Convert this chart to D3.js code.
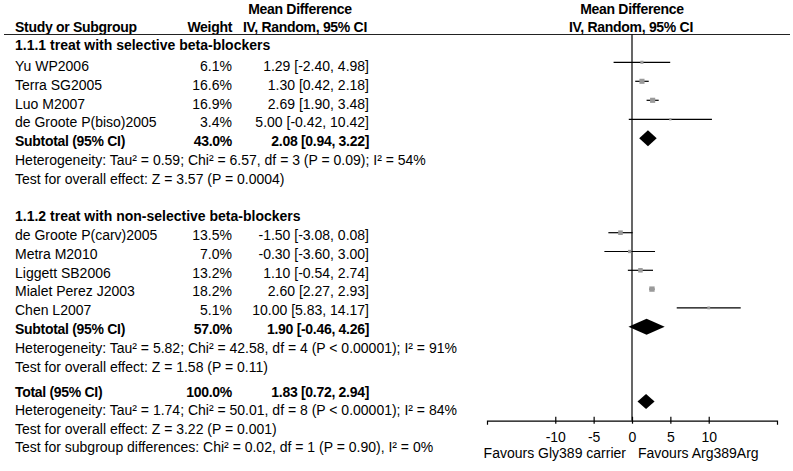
<!DOCTYPE html>
<html><head><meta charset="utf-8">
<script src="https://cdn.jsdelivr.net/npm/d3@7"></script>
<style>
html,body{margin:0;padding:0;background:#fff;}
svg text{font-family:"Liberation Sans",Arial,sans-serif;font-size:14px;fill:#000;}
</style></head>
<body><svg id="c" width="793" height="471"></svg>
<script>
// ---------- DATA ----------
const group1Title = "1.1.1 treat with selective beta-blockers";
const group2Title = "1.1.2 treat with non-selective beta-blockers";
const studies1 = ["Yu WP2006", "Terra SG2005", "Luo M2007", "de Groote P(biso)2005"];
const weights1 = [6.1, 16.6, 16.9, 3.4];
const means1 = [1.29, 1.30, 2.69, 5.00];
const lower1 = [-2.40, 0.42, 1.90, -0.42];
const upper1 = [4.98, 2.18, 3.48, 10.42];
const studies2 = ["de Groote P(carv)2005", "Metra M2010", "Liggett SB2006", "Mialet Perez J2003", "Chen L2007"];
const weights2 = [13.5, 7.0, 13.2, 18.2, 5.1];
const means2 = [-1.50, -0.30, 1.10, 2.60, 10.00];
const lower2 = [-3.08, -3.60, -0.54, 2.27, 5.83];
const upper2 = [0.08, 3.00, 2.74, 2.93, 14.17];
const subtotalLabels = ["Subtotal (95% CI)", "Subtotal (95% CI)", "Total (95% CI)"];
const subtotalWeights = [43.0, 57.0, 100.0];
const subtotalMeans = [2.08, 1.90, 1.83];
const subtotalLower = [0.94, -0.46, 0.72];
const subtotalUpper = [3.22, 4.26, 2.94];
const hetText = [
  "Heterogeneity: Tau\u00B2 = 0.59; Chi\u00B2 = 6.57, df = 3 (P = 0.09); I\u00B2 = 54%",
  "Heterogeneity: Tau\u00B2 = 5.82; Chi\u00B2 = 42.58, df = 4 (P < 0.00001); I\u00B2 = 91%",
  "Heterogeneity: Tau\u00B2 = 1.74; Chi\u00B2 = 50.01, df = 8 (P < 0.00001); I\u00B2 = 84%"
];
const effectText = [
  "Test for overall effect: Z = 3.57 (P = 0.0004)",
  "Test for overall effect: Z = 1.58 (P = 0.11)",
  "Test for overall effect: Z = 3.22 (P = 0.001)"
];
const subgroupText = "Test for subgroup differences: Chi\u00B2 = 0.02, df = 1 (P = 0.90), I\u00B2 = 0%";
const tickValues = [-10, -5, 0, 5, 10];
const favoursLeft = "Favours Gly389 carrier";
const favoursRight = "Favours Arg389Arg";

// ---------- HELPERS ----------
const fmt2 = d => d.toFixed(2);
const fmtW = d => d.toFixed(1) + "%";
const ciStr = (m, l, u) => `${fmt2(m)} [${fmt2(l)}, ${fmt2(u)}]`;

const svg = d3.select("#c");
const x = d3.scaleLinear().domain([-18.9, 18.9]).range([487, 777]);
const axisY = 420.7;
const colName = 15, colWeight = 232, colCI = 369;
const step = 18.8;

function txt(xp, yp, s, opts = {}) {
  const t = svg.append("text").attr("x", xp).attr("y", yp).attr("dy", "0.35em").text(s);
  if (opts.anchor) t.attr("text-anchor", opts.anchor);
  if (opts.bold) t.style("font-weight", "bold");
  if (opts.tight) t.style("letter-spacing", "-0.3px");
  return t;
}

// ---------- HEADER ----------
txt(300, 9, "Mean Difference", {anchor: "middle", bold: true, tight: true});
txt(305, 27, "IV, Random, 95% CI", {anchor: "middle", bold: true, tight: true});
txt(colName, 27, "Study or Subgroup", {bold: true, tight: true});
txt(colWeight, 27, "Weight", {anchor: "end", bold: true, tight: true});
txt(x(0), 9, "Mean Difference", {anchor: "middle", bold: true, tight: true});
txt(x(0) - 1, 27, "IV, Random, 95% CI", {anchor: "middle", bold: true, tight: true});
svg.append("line").attr("x1", 4).attr("x2", 790).attr("y1", 34.5).attr("y2", 34.5)
  .attr("stroke", "#222").attr("stroke-width", 1.2);

// zero line
svg.append("line").attr("x1", x(0)).attr("x2", x(0)).attr("y1", 34.5).attr("y2", axisY)
  .attr("stroke", "#000").attr("stroke-width", 1.2);

// ---------- GROUPS ----------
const groups = [
  {title: group1Title, names: studies1, w: weights1, m: means1, l: lower1, u: upper1,
   titleY: 45, firstY: 66, plotFirstY: 62.3, plotStep: 19, si: 0},
  {title: group2Title, names: studies2, w: weights2, m: means2, l: lower2, u: upper2,
   titleY: 216, firstY: 235, plotFirstY: 232.7, plotStep: 18.8, si: 1}
];

function diamond(i, yc, h) {
  const pts = [[x(subtotalLower[i]), yc], [x(subtotalMeans[i]), yc - h],
               [x(subtotalUpper[i]), yc], [x(subtotalMeans[i]), yc + h]];
  svg.append("path").attr("d", d3.line()(pts) + "Z").attr("fill", "#000");
}

groups.forEach(g => {
  txt(colName, g.titleY, g.title, {bold: true});
  g.names.forEach((n, k) => {
    const ty = g.firstY + k * step;
    txt(colName, ty, n);
    txt(colWeight, ty, fmtW(g.w[k]), {anchor: "end"});
    txt(colCI, ty, ciStr(g.m[k], g.l[k], g.u[k]), {anchor: "end"});
    const py = g.plotFirstY + k * g.plotStep;
    svg.append("line").attr("x1", x(g.l[k])).attr("x2", x(g.u[k]))
      .attr("y1", py).attr("y2", py).attr("stroke", "#000").attr("stroke-width", 1.2);
    const s = 1.25 * Math.sqrt(g.w[k]);
    svg.append("rect").attr("x", x(g.m[k]) - s / 2).attr("y", py - s / 2)
      .attr("width", s).attr("height", s).attr("fill", "#9a9a9a");
  });
  const n = g.names.length;
  const sy = g.firstY + n * step;
  txt(colName, sy, subtotalLabels[g.si], {bold: true, tight: true});
  txt(colWeight, sy, fmtW(subtotalWeights[g.si]), {anchor: "end", bold: true, tight: true});
  txt(colCI, sy, ciStr(subtotalMeans[g.si], subtotalLower[g.si], subtotalUpper[g.si]), {anchor: "end", bold: true, tight: true});
  diamond(g.si, g.plotFirstY + n * g.plotStep, 8);
  txt(colName, sy + step, hetText[g.si]);
  txt(colName, sy + 2 * step, effectText[g.si]);
});

// ---------- TOTAL ----------
const totY = 392;
txt(colName, totY, subtotalLabels[2], {bold: true, tight: true});
txt(colWeight, totY, fmtW(subtotalWeights[2]), {anchor: "end", bold: true, tight: true});
txt(colCI, totY, ciStr(subtotalMeans[2], subtotalLower[2], subtotalUpper[2]), {anchor: "end", bold: true, tight: true});
diamond(2, 401.5, 7.5);
txt(colName, totY + 18.5, hetText[2]);
txt(colName, totY + 37, effectText[2]);
txt(colName, totY + 55.5, subgroupText);

// ---------- AXIS ----------
const ax = svg.append("g").attr("transform", `translate(0,${axisY})`)
  .call(d3.axisBottom(x).tickValues(tickValues).tickFormat(d => String(d))
    .tickSizeOuter(0).tickSize(4).tickPadding(7));
ax.select(".domain").attr("stroke", "#000").attr("stroke-width", 1.2);
ax.selectAll(".tick line").attr("y1", -4).attr("y2", 3).attr("stroke", "#000").attr("stroke-width", 1.2);
ax.selectAll(".tick text").style("font-family", '"Liberation Sans",Arial,sans-serif')
  .style("font-size", "14px").attr("fill", "#000");
txt(x(0) - 6, 453, favoursLeft, {anchor: "end"});
txt(x(0) + 6, 453, favoursRight);
</script></body></html>
